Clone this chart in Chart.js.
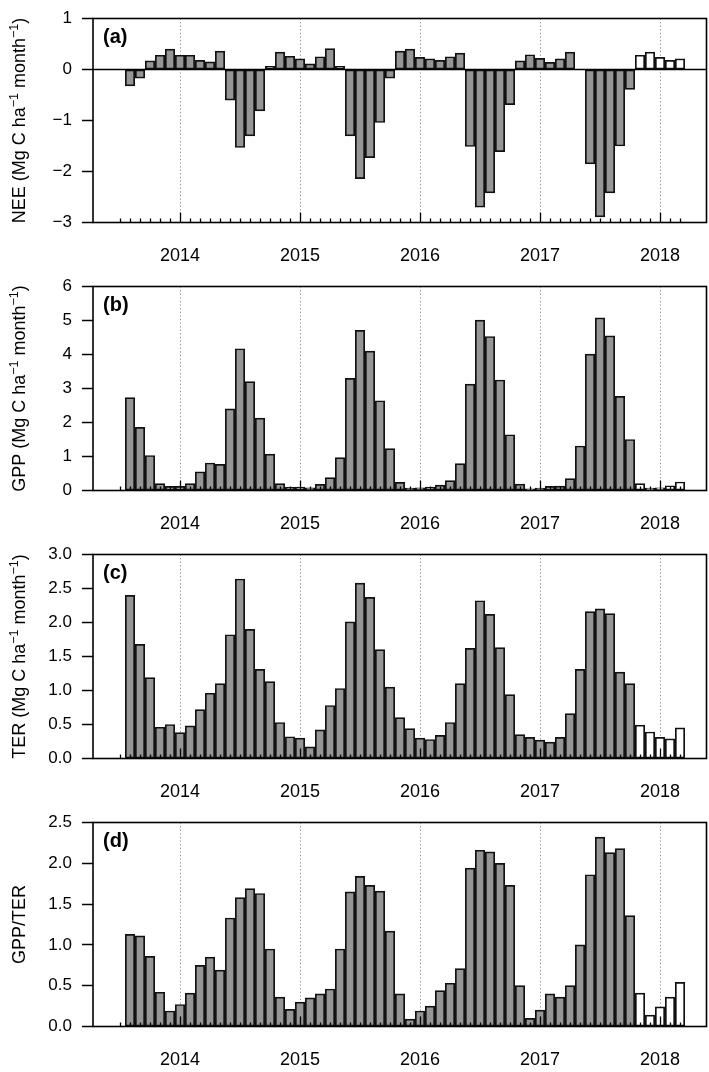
<!DOCTYPE html>
<html>
<head>
<meta charset="utf-8">
<script src="https://cdn.jsdelivr.net/npm/chart.js@4.4.0/dist/chart.umd.min.js"></script>
<style>
  html, body { margin: 0; padding: 0; background: #fff; }
  canvas { display: block; }
</style>
</head>
<body>
<canvas id="nee" width="709" height="268"></canvas>
<canvas id="gpp" width="709" height="268"></canvas>
<canvas id="ter" width="709" height="268"></canvas>
<canvas id="ratio" width="709" height="268"></canvas>
<script>
// monthly bars, Aug 2013 - Mar 2018
const months = [
  '2013-08', '2013-09', '2013-10', '2013-11', '2013-12',
  '2014-01', '2014-02', '2014-03', '2014-04', '2014-05', '2014-06', '2014-07', '2014-08', '2014-09', '2014-10', '2014-11', '2014-12',
  '2015-01', '2015-02', '2015-03', '2015-04', '2015-05', '2015-06', '2015-07', '2015-08', '2015-09', '2015-10', '2015-11', '2015-12',
  '2016-01', '2016-02', '2016-03', '2016-04', '2016-05', '2016-06', '2016-07', '2016-08', '2016-09', '2016-10', '2016-11', '2016-12',
  '2017-01', '2017-02', '2017-03', '2017-04', '2017-05', '2017-06', '2017-07', '2017-08', '2017-09', '2017-10', '2017-11', '2017-12',
  '2018-01', '2018-02', '2018-03'
];
// months from here on are drawn as open bars
const openFrom = '2017-11';

const nee = [
  -0.32, -0.17, 0.17, 0.28, 0.40,
  0.28, 0.28, 0.18, 0.15, 0.36, -0.60, -1.53, -1.30, -0.81, 0.06, 0.34, 0.26,
  0.21, 0.11, 0.25, 0.41, 0.06, -1.30, -2.14, -1.73, -1.04, -0.17, 0.36, 0.40,
  0.24, 0.21, 0.18, 0.25, 0.32, -1.51, -2.70, -2.42, -1.61, -0.69, 0.17, 0.29,
  0.22, 0.14, 0.21, 0.34, 0.00, -1.85, -2.89, -2.42, -1.50, -0.39, 0.28, 0.34,
  0.24, 0.18, 0.21
];
const gpp = [
  2.73, 1.86, 1.03, 0.20, 0.12,
  0.12, 0.20, 0.55, 0.81, 0.77, 2.40, 4.17, 3.20, 2.13, 1.07, 0.20, 0.09,
  0.10, 0.08, 0.18, 0.38, 0.97, 3.30, 4.71, 4.10, 2.64, 1.23, 0.24, 0.07,
  0.08, 0.10, 0.16, 0.29, 0.79, 3.13, 5.01, 4.53, 3.25, 1.64, 0.19, 0.05,
  0.07, 0.12, 0.13, 0.35, 1.31, 4.01, 5.08, 4.55, 2.77, 1.50, 0.20, 0.07,
  0.08, 0.14, 0.25
];
const ter = [
  2.40, 1.68, 1.19, 0.46, 0.50,
  0.38, 0.48, 0.72, 0.96, 1.10, 1.82, 2.64, 1.90, 1.31, 1.13, 0.53, 0.32,
  0.30, 0.17, 0.42, 0.78, 1.03, 2.01, 2.58, 2.37, 1.60, 1.05, 0.60, 0.44,
  0.30, 0.28, 0.34, 0.53, 1.10, 1.62, 2.32, 2.12, 1.63, 0.94, 0.35, 0.31,
  0.27, 0.24, 0.31, 0.66, 1.31, 2.16, 2.20, 2.13, 1.27, 1.10, 0.49, 0.39,
  0.31, 0.29, 0.45
];
const ratio = [
  1.13, 1.11, 0.86, 0.42, 0.19,
  0.27, 0.41, 0.75, 0.85, 0.69, 1.33, 1.58, 1.69, 1.63, 0.95, 0.36, 0.21,
  0.30, 0.35, 0.40, 0.46, 0.95, 1.65, 1.84, 1.73, 1.66, 1.17, 0.40, 0.09,
  0.19, 0.25, 0.44, 0.53, 0.71, 1.94, 2.16, 2.14, 2.00, 1.73, 0.50, 0.10,
  0.20, 0.40, 0.36, 0.50, 1.00, 1.86, 2.32, 2.13, 2.18, 1.36, 0.41, 0.14,
  0.24, 0.36, 0.54
];

const yearLabels = ['2014', '2015', '2016', '2017', '2018'];
const neeTicks = [1, 0, -1, -2, -3];
const gppTicks = [0, 1, 2, 3, 4, 5, 6];
const terTicks = [0, 0.5, 1.0, 1.5, 2.0, 2.5, 3.0];
const ratioTicks = [0, 0.5, 1.0, 1.5, 2.0, 2.5];

const FONT = '"Liberation Sans", Arial, Helvetica, sans-serif';
const INK = '#000000';
const BAR_FILL = '#969696';

// month index, Jan 2014 = 0
const monthIdx = m => (Number(m.slice(0, 4)) - 2014) * 12 + Number(m.slice(5, 7)) - 1;
const firstTick = monthIdx(months[0]) - 1;
const lastTick = monthIdx(months[months.length - 1]);

Chart.defaults.font.family = FONT;
Chart.defaults.color = INK;
Chart.defaults.animation = false;

// box, dotted year lines, inward month ticks, panel letter, y title
const framePlugin = {
  id: 'frame',
  beforeDatasetsDraw(chart) {
    const { ctx, chartArea: a, scales: { x } } = chart;
    ctx.save();
    ctx.strokeStyle = '#8a8a8a';
    ctx.lineWidth = 1;
    ctx.setLineDash([1.2, 2.4]);
    yearLabels.forEach(y => {
      const px = Math.round(x.getPixelForValue(monthIdx(y + '-01'))) + 0.5;
      ctx.beginPath();
      ctx.moveTo(px, a.top);
      ctx.lineTo(px, a.bottom);
      ctx.stroke();
    });
    ctx.restore();
  },
  afterDatasetsDraw(chart, args, opts) {
    const { ctx, chartArea: a, scales: { x, y } } = chart;
    ctx.save();
    ctx.strokeStyle = INK;

    if (opts.zeroLine) {
      const py = y.getPixelForValue(0);
      ctx.lineWidth = 1.5;
      ctx.beginPath();
      ctx.moveTo(a.left, py);
      ctx.lineTo(a.right, py);
      ctx.stroke();
    }

    // month ticks pointing up from the x axis
    ctx.lineWidth = 1.3;
    for (let m = firstTick; m <= lastTick; m++) {
      const px = Math.round(x.getPixelForValue(m)) + 0.5;
      const len = m % 12 === 0 ? 10 : 4;
      ctx.beginPath();
      ctx.moveTo(px, a.bottom);
      ctx.lineTo(px, a.bottom - len);
      ctx.stroke();
    }

    ctx.lineWidth = 1.6;
    ctx.strokeRect(a.left, a.top, a.right - a.left, a.bottom - a.top);

    ctx.fillStyle = INK;
    ctx.font = 'bold 20px ' + FONT;
    ctx.textBaseline = 'alphabetic';
    ctx.fillText(opts.letter, a.left + 10, a.top + 24);

    // rotated axis title with superscripts
    const big = '18px ' + FONT, small = '12.5px ' + FONT;
    let total = 0;
    opts.title.forEach(p => {
      ctx.font = p.sup ? small : big;
      p.w = ctx.measureText(p.t).width;
      total += p.w;
    });
    ctx.translate(25, (a.top + a.bottom) / 2);
    ctx.rotate(-Math.PI / 2);
    let tx = -total / 2;
    opts.title.forEach(p => {
      ctx.font = p.sup ? small : big;
      ctx.fillText(p.t, tx, p.sup ? -7 : 0);
      tx += p.w;
    });
    ctx.restore();
  }
};

function unitTitle(name) {
  return [
    { t: name + ' (Mg C ha' }, { t: '\u22121', sup: true },
    { t: ' month' }, { t: '\u22121', sup: true }, { t: ')' }
  ];
}

function makePanel(id, values, yMin, yMax, yTicks, decimals, letter, title, zeroLine) {
  const data = months.map((m, k) => ({ x: monthIdx(m), y: values[k] }));
  const fills = months.map(m => (m >= openFrom ? '#ffffff' : BAR_FILL));
  const fmt = v => {
    const s = decimals ? v.toFixed(decimals) : String(v);
    return s.replace('-', '\u2212');
  };
  return new Chart(document.getElementById(id), {
    type: 'bar',
    data: {
      datasets: [{
        data,
        backgroundColor: fills,
        borderColor: '#111111',
        borderWidth: 1.7,
        borderSkipped: false,
        barThickness: 9.4
      }]
    },
    options: {
      responsive: false,
      layout: { padding: { top: 9, right: 2.5, left: 0, bottom: 0 } },
      plugins: {
        legend: { display: false },
        tooltip: { enabled: false },
        frame: { letter, title, zeroLine }
      },
      scales: {
        x: {
          type: 'linear',
          offset: false,
          min: -8.7,
          max: 52.65,
          afterBuildTicks: s => { s.ticks = yearLabels.map(yl => ({ value: monthIdx(yl + '-01') })); },
          afterFit: s => { s.height = 45.5; },
          ticks: {
            autoSkip: false,
            maxRotation: 0,
            padding: 23,
            font: { size: 18 },
            color: INK,
            callback: (v, i) => yearLabels[i]
          },
          grid: { display: false, drawTicks: false, offset: false },
          border: { display: false }
        },
        y: {
          min: yMin,
          max: yMax,
          afterBuildTicks: s => { s.ticks = yTicks.map(v => ({ value: v })); },
          afterFit: s => { s.width = 93; },
          ticks: {
            padding: 10,
            font: { size: 17, lineHeight: 1 },
            color: INK,
            callback: v => fmt(v)
          },
          grid: {
            drawOnChartArea: false,
            drawTicks: true,
            tickLength: 11,
            tickWidth: 1.5,
            tickColor: INK
          },
          border: { display: false }
        }
      }
    },
    plugins: [framePlugin]
  });
}

makePanel('nee', nee, -3, 1, neeTicks, 0, '(a)', unitTitle('NEE'), true);
makePanel('gpp', gpp, 0, 6, gppTicks, 0, '(b)', unitTitle('GPP'), false);
makePanel('ter', ter, 0, 3, terTicks, 1, '(c)', unitTitle('TER'), false);
makePanel('ratio', ratio, 0, 2.5, ratioTicks, 1, '(d)', [{ t: 'GPP/TER' }], false);
</script>
</body>
</html>
